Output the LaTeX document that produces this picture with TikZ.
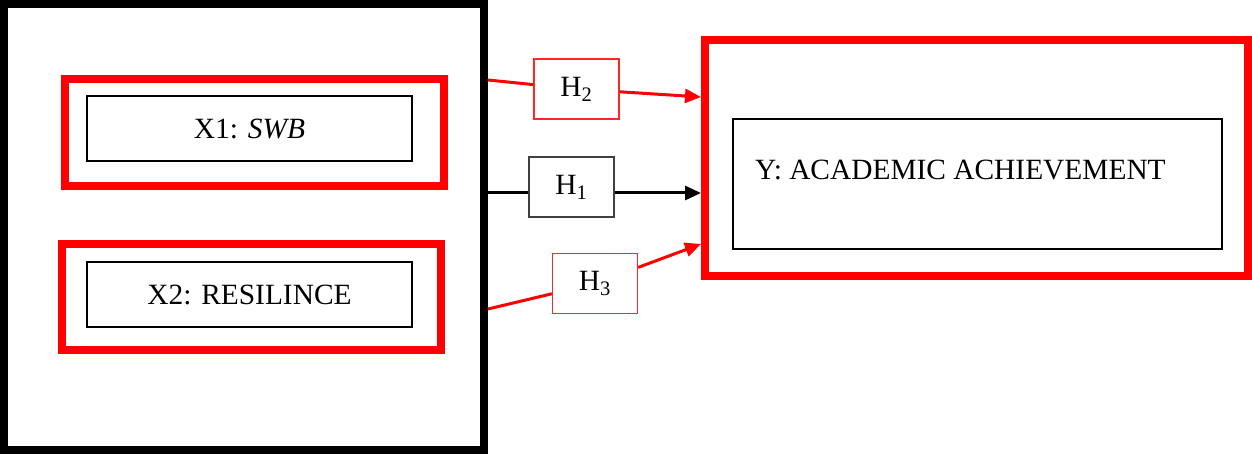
\documentclass[tikz,border=0pt]{standalone}
\usepackage{fontspec}
\setmainfont{Liberation Serif}
\usetikzlibrary{arrows.meta}
\begin{document}
\begin{tikzpicture}[x=1pt,y=-1pt,
  every node/.style={font=\fontsize{29.4}{34}\selectfont, inner sep=0pt},
  redbox/.style={draw=red, line width=8pt},
  innerbox/.style={draw, line width=2pt},
  hred/.style={draw=red!85, line width=1.3pt, fill=white, minimum width=85pt, minimum height=60pt},
  hblack/.style={draw=black!75, line width=1.3pt, fill=white, minimum width=85pt, minimum height=60pt},
  redlink/.style={draw=red, line width=3pt},
  blacklink/.style={draw=black, line width=3pt},
  tip/.style={-{Triangle[length=16pt,width=14pt]}}
]
\useasboundingbox (0,0) rectangle (1252,454);
% left big box
\node[draw, line width=8pt, minimum width=480pt, minimum height=446pt] (big) at (244,227) {};
\node[redbox, minimum width=379pt, minimum height=107pt] (r1) at (254.5,132.5) {};
\node[innerbox, minimum width=325pt, minimum height=65pt] (x1) at (249.5,128.5) {X1: \textit{SWB}};
\node[redbox, minimum width=379pt, minimum height=106pt] (r2) at (251.5,297) {};
\node[innerbox, minimum width=325pt, minimum height=65pt] (x2) at (249.5,294.5) {X2: RESILINCE};
% right box
\node[redbox, minimum width=543pt, minimum height=236pt] (ry) at (976.5,158) {};
\node[innerbox, minimum width=489pt, minimum height=130pt] (y) at (977.5,184) {};
\node[anchor=west] (ytext) at (755,170) {Y: ACADEMIC ACHIEVEMENT};
% hypothesis boxes
\node[hred] (h2) at (576.5,89) {H\textsubscript{2}};
\node[hblack] (h1) at (571.5,187) {H\textsubscript{1}};
\node[hred] (h3) at (595,283.5) {H\textsubscript{3}};
% connector end points
\coordinate (s2) at (488,80);
\coordinate (t2) at (701,97);
\coordinate (s1) at (488,193);
\coordinate (t1) at (701,193);
\coordinate (s3) at (488,309);
\coordinate (t3) at (701,244);
% connectors
\draw[redlink] (s2) -- (h2);
\draw[redlink, tip] (h2) -- (t2);
\draw[blacklink] (s1) -- (h1.west |- s1);
\draw[blacklink, tip] (h1.east |- t1) -- (t1);
\draw[redlink] (s3) -- (h3);
\draw[redlink, tip] (h3) -- (t3);
\end{tikzpicture}
\end{document}
